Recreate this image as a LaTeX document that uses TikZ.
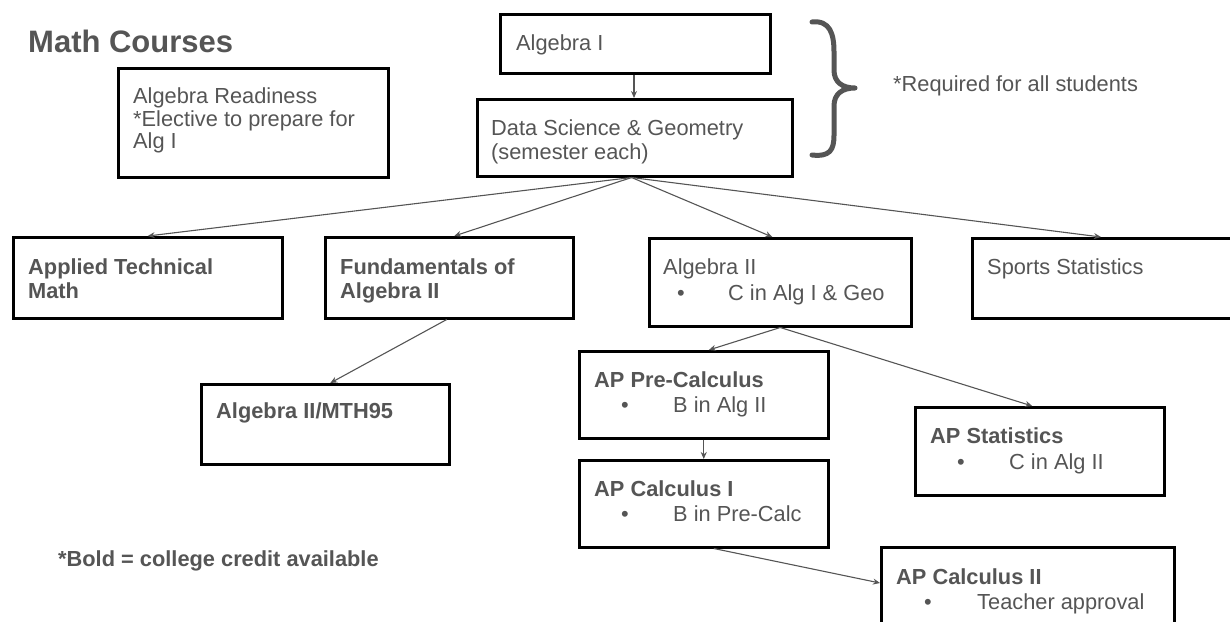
\documentclass[tikz,border=0pt]{standalone}
\usepackage{fontspec}
\setmainfont{Liberation Sans}
\usetikzlibrary{arrows.meta,calc}
\definecolor{txt}{HTML}{555555}
\definecolor{lnk}{HTML}{555555}
\begin{document}
\begin{tikzpicture}[x=1pt,y=-1pt,
  box/.style={draw=black, line width=2.5pt, anchor=north west, inner sep=0pt},
  lbl/.style={anchor=base west, inner sep=0pt, text=txt, font=\fontsize{21.8}{24}\selectfont},
  blbl/.style={lbl, font=\bfseries\fontsize{21.8}{24}\selectfont},
  link/.style={draw=lnk, line width=1.1pt, -{Stealth[length=7pt,width=6pt]}},
  bracestyle/.style={draw=lnk, line width=5pt, line cap=round, line join=round}]
\useasboundingbox (0,0) rectangle (1230,621);
\clip (0,0) rectangle (1230,621);
% title
\node[lbl, font=\bfseries\fontsize{31}{34}\selectfont] (title) at (28,52) {Math Courses};
% boxes
\node[box, minimum width=270pt, minimum height=109pt] (ar) at (117,67) {};
\node[box, minimum width=270pt, minimum height=59pt] (a1) at (499,13) {};
\node[box, minimum width=315pt, minimum height=77pt] (ds) at (476,98) {};
\node[box, minimum width=269pt, minimum height=81pt] (atm) at (12,236) {};
\node[box, minimum width=248pt, minimum height=81pt] (fa2) at (324,236) {};
\node[box, minimum width=262pt, minimum height=88pt] (a2) at (648,237) {};
\node[box, minimum width=280pt, minimum height=80pt] (ss) at (971,237) {};
\node[box, minimum width=248pt, minimum height=80pt] (mth) at (200,383) {};
\node[box, minimum width=249pt, minimum height=87pt] (pc) at (578,350) {};
\node[box, minimum width=249pt, minimum height=88pt] (st) at (914,406) {};
\node[box, minimum width=249pt, minimum height=87pt] (c1) at (578,459) {};
\node[box, minimum width=293pt, minimum height=90pt] (c2) at (880,546) {};
% texts
\node[lbl] (arT1) at (133,103) {Algebra Readiness};
\node[lbl] (arT2) at (133,126) {*Elective to prepare for};
\node[lbl] (arT3) at (133,148) {Alg I};
\node[lbl] (a1T) at (516,50) {Algebra I};
\node[lbl] (dsT1) at (491,135) {Data Science \& Geometry};
\node[lbl] (dsT2) at (491,159) {(semester each)};
\node[lbl] (req) at (893,91) {*Required for all students};
\node[blbl] (atmT1) at (28,274) {Applied Technical};
\node[blbl] (atmT2) at (28,298) {Math};
\node[blbl] (fa2T1) at (340,274) {Fundamentals of};
\node[blbl] (fa2T2) at (340,298) {Algebra II};
\node[lbl] (a2T1) at (663,274) {Algebra II};
\node[lbl] (a2B) at (677,300) {•};
\node[lbl] (a2T2) at (728,300) {C in Alg I \& Geo};
\node[lbl] (ssT) at (987,274) {Sports Statistics};
\node[blbl] (mthT) at (216,418) {Algebra II/MTH95};
\node[blbl] (pcT1) at (594,387) {AP Pre-Calculus};
\node[lbl] (pcB) at (621,412) {•};
\node[lbl] (pcT2) at (673,412) {B in Alg II};
\node[blbl] (stT1) at (930,443) {AP Statistics};
\node[lbl] (stB) at (957,469) {•};
\node[lbl] (stT2) at (1009,469) {C in Alg II};
\node[blbl] (c1T1) at (594,496) {AP Calculus I};
\node[lbl] (c1B) at (621,521) {•};
\node[lbl] (c1T2) at (673,521) {B in Pre-Calc};
\node[blbl] (c2T1) at (896,584) {AP Calculus II};
\node[lbl] (c2B) at (924,609) {•};
\node[lbl] (c2T2) at (977,609) {Teacher approval};
\node[blbl] (foot) at (58,566) {*Bold = college credit available};
% brace
\draw[bracestyle] (812,22) .. controls (830,20) and (834,34) .. (834,52) -- (834,70) .. controls (834,82) and (842,88) .. (855,88) .. controls (842,88) and (834,94) .. (834,106) -- (834,135) .. controls (834,150) and (830,157) .. (812,155);
% connectors
\coordinate (dsb) at ($(ds.south west)!0.49!(ds.south east)$);
\draw[link] (a1.south -| 634,0) -- (ds.north -| 634,0);
\draw[link] (dsb) -- ($(atm.north west)!0.5!(atm.north east)$);
\draw[link] (dsb) -- ($(fa2.north west)!0.52!(fa2.north east)$);
\draw[link] (dsb) -- ($(a2.north west)!0.47!(a2.north east)$);
\draw[link] (dsb) -- ($(ss.north west)!0.46!(ss.north east)$);
\draw[link] ($(fa2.south west)!0.49!(fa2.south east)$) -- ($(mth.north west)!0.52!(mth.north east)$);
\coordinate (a2b) at ($(a2.south west)!0.5!(a2.south east)$);
\draw[link] (a2b) -- ($(pc.north west)!0.52!(pc.north east)$);
\draw[link] (a2b) -- ($(st.north west)!0.47!(st.north east)$);
\draw[link] ($(pc.south west)!0.5!(pc.south east)$) -- ($(c1.north west)!0.5!(c1.north east)$);
\draw[link] ($(c1.south west)!0.54!(c1.south east)$) -- ($(c2.north west)!0.4!(c2.south west)$);
\end{tikzpicture}
\end{document}
